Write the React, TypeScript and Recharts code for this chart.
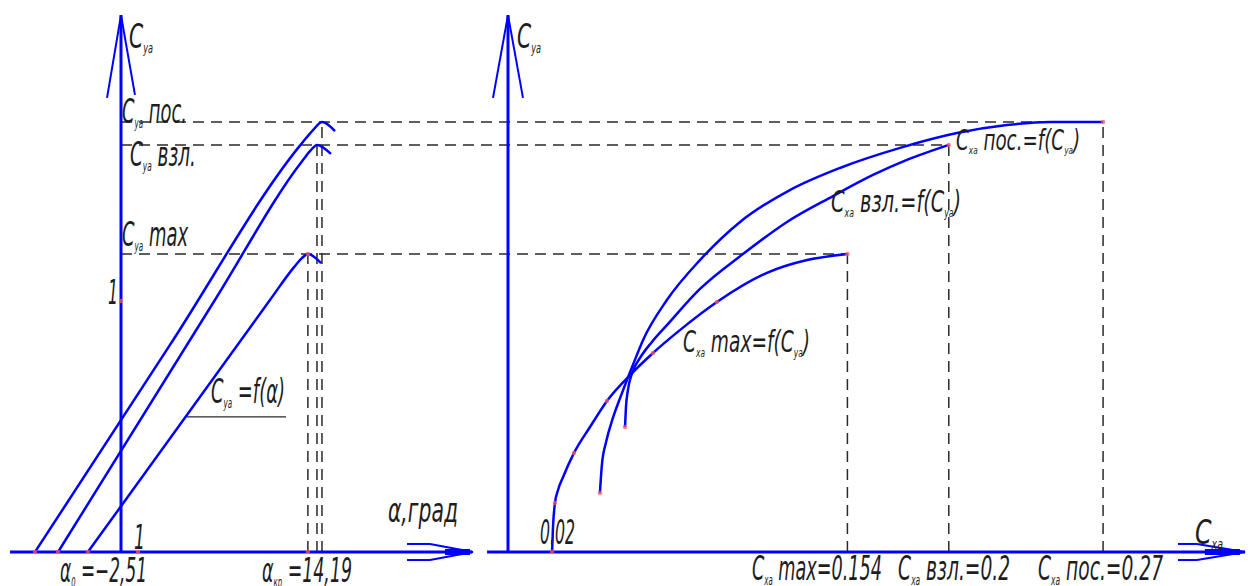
import React from "react";
import {
  ComposedChart,
  Line,
  Scatter,
  XAxis,
  YAxis,
  ReferenceLine,
  ReferenceDot,
} from "recharts";

// Cy = f(alpha), three wing configurations (alpha in deg)
const liftLanding = [
  { a: -6.53, cy: 0 },
  { a: 3.72, cy: 0.825 },
  { a: 13.74, cy: 1.629 },
  { a: 14.58, cy: 1.681 },
  { a: 15.26, cy: 1.713 },
  { a: 16.25, cy: 1.677 },
];
const liftTakeoff = [
  { a: -4.78, cy: 0 },
  { a: 7.13, cy: 1.004 },
  { a: 13.82, cy: 1.562 },
  { a: 14.43, cy: 1.602 },
  { a: 14.88, cy: 1.622 },
  { a: 15.94, cy: 1.586 },
];
const liftCruise = [
  { a: -2.51, cy: 0 },
  { a: 11.31, cy: 1.004 },
  { a: 13.14, cy: 1.135 },
  { a: 13.74, cy: 1.171 },
  { a: 14.19, cy: 1.187 },
  { a: 15.19, cy: 1.151 },
];

// Cx = f(Cy) polars
const polarCruise = [
  { cx: 0.02, cy: 0 },
  { cx: 0.0204, cy: 0.096 },
  { cx: 0.0213, cy: 0.195 },
  { cx: 0.0227, cy: 0.247 },
  { cx: 0.025, cy: 0.299 },
  { cx: 0.0299, cy: 0.394 },
  { cx: 0.0372, cy: 0.498 },
  { cx: 0.0449, cy: 0.602 },
  { cx: 0.0563, cy: 0.713 },
  { cx: 0.0658, cy: 0.793 },
  { cx: 0.078, cy: 0.884 },
  { cx: 0.0948, cy: 0.996 },
  { cx: 0.1175, cy: 1.112 },
  { cx: 0.1357, cy: 1.163 },
  { cx: 0.154, cy: 1.187 },
];
const polarTakeoff = [
  { cx: 0.0531, cy: 0.498 },
  { cx: 0.0535, cy: 0.574 },
  { cx: 0.0544, cy: 0.645 },
  { cx: 0.0563, cy: 0.713 },
  { cx: 0.0599, cy: 0.773 },
  { cx: 0.0653, cy: 0.837 },
  { cx: 0.0721, cy: 0.904 },
  { cx: 0.0871, cy: 1.048 },
  { cx: 0.1066, cy: 1.187 },
  { cx: 0.1266, cy: 1.315 },
  { cx: 0.1475, cy: 1.418 },
  { cx: 0.1656, cy: 1.502 },
  { cx: 0.181, cy: 1.562 },
  { cx: 0.2, cy: 1.622 },
];
const polarLanding = [
  { cx: 0.0417, cy: 0.235 },
  { cx: 0.0426, cy: 0.347 },
  { cx: 0.0445, cy: 0.438 },
  { cx: 0.0476, cy: 0.534 },
  { cx: 0.0517, cy: 0.633 },
  { cx: 0.0563, cy: 0.737 },
  { cx: 0.0613, cy: 0.845 },
  { cx: 0.0721, cy: 1.004 },
  { cx: 0.0871, cy: 1.163 },
  { cx: 0.1053, cy: 1.315 },
  { cx: 0.1279, cy: 1.442 },
  { cx: 0.1506, cy: 1.53 },
  { cx: 0.1779, cy: 1.61 },
  { cx: 0.2037, cy: 1.669 },
  { cx: 0.2264, cy: 1.701 },
  { cx: 0.2459, cy: 1.713 },
  { cx: 0.27, cy: 1.713 },
];

// landing, takeoff, cruise
const cyMax = [1.713, 1.622, 1.187];
const alphaCrit = [15.26, 14.88, 14.19];
const cxAtCyMax = [0.27, 0.2, 0.154];

const markersLeft = [
  { a: -6.53, cy: 0 },
  { a: -4.78, cy: 0 },
  { a: -2.51, cy: 0 },
  { a: 1.29, cy: 0 },
  { a: 14.19, cy: 0 },
  { a: 0, cy: 1 },
  { a: 14.19, cy: 1.187 },
];
const markersRight = [
  { cx: 0.02, cy: 0 },
  { cx: 0.0213, cy: 0.195 },
  { cx: 0.0299, cy: 0.394 },
  { cx: 0.0449, cy: 0.602 },
  { cx: 0.0658, cy: 0.793 },
  { cx: 0.0948, cy: 0.996 },
  { cx: 0.154, cy: 1.187 },
  { cx: 0.0417, cy: 0.235 },
  { cx: 0.0531, cy: 0.498 },
  { cx: 0.2, cy: 1.622 },
  { cx: 0.27, cy: 1.713 },
];

// layout of the sheet
const W = 1248;
const H = 586;
const A0 = 121; // alpha = 0
const AK = 13.17; // px per degree
const C0 = 508; // Cx = 0
const CK = 2204; // px per unit Cx
const Y0 = 552; // Cy = 0
const YK = 251; // px per unit Cy

const alphaDomain = [-A0 / AK, (W - A0) / AK];
const cxDomain = [-C0 / CK, (W - C0) / CK];
const cyDomain = [(Y0 - H) / YK, Y0 / YK];
const alphaToCx = (a: number) => (A0 + a * AK - C0) / CK;

const BLUE = "#0000ff";
const DASH = "#2a2a2a";
const INK = "#1e1e1e";
const FONT = "'DejaVu Sans', 'DejaVu Sans Condensed', sans-serif";

// "C_{ya} пос." -> main text with subscripts
const Rich = ({ cx, cy, text, size, w }: any) => {
  const parts = text.split(/(_\{[^}]*\})/).filter((s: string) => s !== "");
  let off = 0;
  const spans = parts.map((s: string, i: number) => {
    const sub = s.startsWith("_{");
    const t = sub ? s.slice(2, -1) : s;
    const target = sub ? size * 0.16 : 0;
    const dy = target - off;
    off = target;
    return (
      <tspan key={i} dy={dy} fontSize={sub ? size * 0.4 : size}>
        {t}
      </tspan>
    );
  });
  return (
    <text
      x={cx}
      y={cy}
      fill={INK}
      fontFamily={FONT}
      fontStyle="italic"
      fontWeight={200}
      fontSize={size}
      textLength={w}
      lengthAdjust="spacingAndGlyphs"
    >
      {spans}
    </text>
  );
};

const label = (text: string, size: number, w: number) => (p: any) =>
  <Rich cx={p.cx} cy={p.cy} text={text} size={size} w={w} />;

const redDot = (p: any) => (
  <circle cx={p.cx} cy={p.cy} r={2.2} fill="#ff5a5a" fillOpacity={0.75} />
);

export default function App() {
  const axis = { stroke: BLUE, strokeWidth: 3, ifOverflow: "visible" as const };
  const thin = { stroke: BLUE, strokeWidth: 2, ifOverflow: "visible" as const };
  const dashed = {
    stroke: DASH,
    strokeWidth: 1.5,
    strokeDasharray: "11 7",
    ifOverflow: "visible" as const,
  };
  const curve = {
    type: "monotone" as const,
    dataKey: "cy",
    stroke: BLUE,
    strokeWidth: 2.5,
    dot: false,
    activeDot: false,
    isAnimationActive: false,
  };
  const txt = (id: string, x: number, y: number, text: string, size: number, w: number) => (
    <ReferenceDot
      key={`${id}-${text}`}
      xAxisId={id}
      x={x}
      y={y}
      r={0}
      ifOverflow="visible"
      shape={label(text, size, w)}
    />
  );

  return (
    <div style={{ position: "absolute", left: 0, top: 0, width: W, height: H, background: "#fff" }}>
      <ComposedChart width={W} height={H} margin={{ top: 0, right: 0, bottom: 0, left: 0 }}>
        <XAxis xAxisId="a" type="number" dataKey="a" domain={alphaDomain} allowDataOverflow hide />
        <XAxis xAxisId="c" type="number" dataKey="cx" domain={cxDomain} allowDataOverflow hide />
        <YAxis type="number" dataKey="cy" domain={cyDomain} allowDataOverflow hide />

        {/* dashed construction lines */}
        {cyMax.map((cy, i) => (
          <ReferenceLine
            key={`h${i}`}
            xAxisId="c"
            segment={[{ x: alphaToCx(0), y: cy }, { x: cxAtCyMax[i], y: cy }]}
            {...dashed}
          />
        ))}
        {cyMax.map((cy, i) => (
          <ReferenceLine
            key={`va${i}`}
            xAxisId="a"
            segment={[{ x: alphaCrit[i], y: 0 }, { x: alphaCrit[i], y: cy }]}
            {...dashed}
          />
        ))}
        {cyMax.map((cy, i) => (
          <ReferenceLine
            key={`vc${i}`}
            xAxisId="c"
            segment={[{ x: cxAtCyMax[i], y: 0 }, { x: cxAtCyMax[i], y: cy }]}
            {...dashed}
          />
        ))}

        {/* left axes */}
        <ReferenceLine xAxisId="a" segment={[{ x: -8.43, y: 0 }, { x: 26.65, y: 0 }]} {...axis} />
        <ReferenceLine xAxisId="a" segment={[{ x: 24.6, y: 0 }, { x: 26.5, y: 0 }]} stroke={BLUE} strokeWidth={6} ifOverflow="visible" />
        <ReferenceLine xAxisId="a" segment={[{ x: 21.72, y: 0.032 }, { x: 23.46, y: 0.032 }]} {...thin} />
        <ReferenceLine xAxisId="a" segment={[{ x: 23.46, y: 0.032 }, { x: 26.73, y: 0 }]} {...thin} />
        <ReferenceLine xAxisId="a" segment={[{ x: 21.72, y: -0.032 }, { x: 23.46, y: -0.032 }]} {...thin} />
        <ReferenceLine xAxisId="a" segment={[{ x: 23.46, y: -0.032 }, { x: 26.73, y: 0 }]} {...thin} />
        <ReferenceLine xAxisId="a" segment={[{ x: 0, y: 0 }, { x: 0, y: 2.139 }]} {...axis} />
        <ReferenceLine xAxisId="a" segment={[{ x: -1.06, y: 1.809 }, { x: 0, y: 2.139 }]} {...thin} />
        <ReferenceLine xAxisId="a" segment={[{ x: 1.06, y: 1.821 }, { x: 0, y: 2.139 }]} {...thin} />
        <ReferenceLine xAxisId="a" segment={[{ x: 5.01, y: 0.538 }, { x: 12.53, y: 0.538 }]} stroke={DASH} strokeWidth={1.2} ifOverflow="visible" />

        {/* right axes */}
        <ReferenceLine xAxisId="c" segment={[{ x: -0.0095, y: 0 }, { x: 0.3344, y: 0 }]} {...axis} />
        <ReferenceLine xAxisId="c" segment={[{ x: 0.3162, y: 0 }, { x: 0.3321, y: 0 }]} stroke={BLUE} strokeWidth={6} ifOverflow="visible" />
        <ReferenceLine xAxisId="c" segment={[{ x: 0.304, y: 0.032 }, { x: 0.3126, y: 0.032 }]} {...thin} />
        <ReferenceLine xAxisId="c" segment={[{ x: 0.3126, y: 0.032 }, { x: 0.3344, y: 0 }]} {...thin} />
        <ReferenceLine xAxisId="c" segment={[{ x: 0.304, y: -0.032 }, { x: 0.3126, y: -0.032 }]} {...thin} />
        <ReferenceLine xAxisId="c" segment={[{ x: 0.3126, y: -0.032 }, { x: 0.3344, y: 0 }]} {...thin} />
        <ReferenceLine xAxisId="c" segment={[{ x: 0, y: 0 }, { x: 0, y: 2.139 }]} {...axis} />
        <ReferenceLine xAxisId="c" segment={[{ x: -0.0068, y: 1.809 }, { x: 0, y: 2.139 }]} {...thin} />
        <ReferenceLine xAxisId="c" segment={[{ x: 0.0068, y: 1.809 }, { x: 0, y: 2.139 }]} {...thin} />

        {/* curves */}
        <Line xAxisId="a" data={liftLanding} {...curve} />
        <Line xAxisId="a" data={liftTakeoff} {...curve} />
        <Line xAxisId="a" data={liftCruise} {...curve} />
        <Line xAxisId="c" data={polarCruise} {...curve} />
        <Line xAxisId="c" data={polarTakeoff} {...curve} />
        <Line xAxisId="c" data={polarLanding} {...curve} />

        <Scatter xAxisId="a" data={markersLeft} shape={redDot} isAnimationActive={false} />
        <Scatter xAxisId="c" data={markersRight} shape={redDot} isAnimationActive={false} />

        {/* texts, left */}
        {txt("a", 0.61, 2.008, "C_{ya}", 33, 24)}
        {txt("a", 0.08, 1.709, "C_{ya} пос.", 33, 65)}
        {txt("a", 0.68, 1.538, "C_{ya} взл.", 33, 66)}
        {txt("a", 0.08, 1.219, "C_{ya} max", 33, 66)}
        {txt("a", -0.99, 0.988, "1", 33, 10)}
        {txt("a", 0.99, 0.012, "1", 33, 11)}
        {txt("a", -4.63, -0.12, "α_{0} =−2,51", 33, 87)}
        {txt("a", 10.71, -0.12, "α_{кр} =14,19", 33, 90)}
        {txt("a", 6.83, 0.594, "C_{ya} =f(α)", 33, 74)}
        {txt("a", 20.27, 0.12, "α,град", 33, 70)}

        {/* texts, right */}
        {txt("c", 0.0041, 2.008, "C_{ya}", 33, 24)}
        {txt("c", 0.2033, 1.602, "C_{xa} пос.=f(C_{ya})", 28, 124)}
        {txt("c", 0.1466, 1.355, "C_{xa} взл.=f(C_{ya})", 30, 130)}
        {txt("c", 0.0794, 0.797, "C_{xa} max=f(C_{ya})", 30, 127)}
        {txt("c", 0.0145, 0.032, "0.02", 33, 35)}
        {txt("c", 0.1107, -0.112, "C_{xa} max=0.154", 33, 130)}
        {txt("c", 0.177, -0.112, "C_{xa} взл.=0.2", 33, 112)}
        {txt("c", 0.2405, -0.112, "C_{xa} пос.=0.27", 33, 125)}
        {txt("c", 0.3117, 0.032, "C_{xa}", 33, 28)}
      </ComposedChart>
    </div>
  );
}
